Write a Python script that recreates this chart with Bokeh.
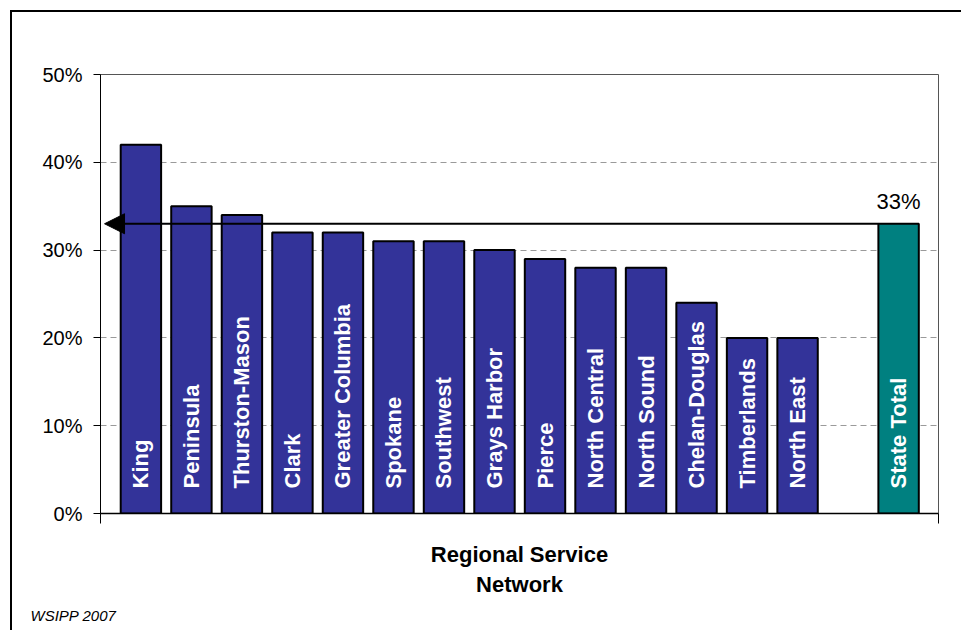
import math
from bokeh.plotting import figure
from bokeh.models import (Range1d, FixedTicker, ColumnDataSource, Arrow, NormalHead,
                          Title, CustomJSTickFormatter)
from bokeh.core.properties import value
from bokeh.embed import file_html
from bokeh.resources import INLINE

# ---- data ----
regions = ["King", "Peninsula", "Thurston-Mason", "Clark", "Greater Columbia", "Spokane",
           "Southwest", "Grays Harbor", "Pierce", "North Central", "North Sound",
           "Chelan-Douglas", "Timberlands", "North East"]
region_values = [42, 35, 34, 32, 32, 31, 31, 30, 29, 28, 28, 24, 20, 20]
total_label = "State Total"
total_value = 33
y_ticks = [0, 10, 20, 30, 40, 50]
y_tick_labels = ["0%", "10%", "20%", "30%", "40%", "50%"]

FONT = "Liberation Sans"
BLUE = "#333399"
TEAL = "#008080"

region_x = list(range(len(regions)))
total_x = len(regions) + 1
x_lo, x_hi = -0.8, total_x + 0.79

p = figure(width=961, height=630, output_backend="svg", toolbar_location=None,
           x_range=Range1d(x_lo, x_hi), y_range=Range1d(0, 50),
           min_border_left=100, min_border_right=23, min_border_top=74,
           min_border_bottom=117)
p.background_fill_color = "white"
p.border_fill_color = None
p.outline_line_color = "#555555"
p.outline_line_width = 1
# outer chart-area border (left and top edges visible in the window)
p.styles = {
    "background": ("linear-gradient(#000, #000) 10px 10px / 2px 100% no-repeat, "
                   "linear-gradient(#000, #000) 10px 10px / 100% 2px no-repeat, #fff"),
}

# bars
src_r = ColumnDataSource(dict(x=region_x, top=region_values, name=regions))
src_t = ColumnDataSource(dict(x=[total_x], top=[total_value], name=[total_label],
                              lab=[f"{total_value}%"]))
p.vbar(x="x", top="top", bottom=0, width=0.8, source=src_r, fill_color=BLUE,
       line_color="black", line_width=2)
p.vbar(x="x", top="top", bottom=0, width=0.8, source=src_t, fill_color=TEAL,
       line_color="black", line_width=2)

# labels in bars
for s in (src_r, src_t):
    p.text(x="x", y=0, text="name", source=s, angle=math.pi / 2, y_offset=-25,
           text_align="left", text_baseline="middle", text_color="white",
           text_font=value(FONT), text_font_style="bold", text_font_size="22px")

p.text(x="x", y="top", text="lab", source=src_t, y_offset=-22, text_align="center",
       text_baseline="alphabetic", text_color="black", text_font=value(FONT),
       text_font_size="22px")

# arrow for state total reference
p.add_layout(Arrow(end=NormalHead(size=20, fill_color="black", line_color="black"),
                   x_start=total_x - 0.4, y_start=total_value,
                   x_end=x_lo + 0.08, y_end=total_value, line_width=2,
                   line_color="black"))

# axes
p.yaxis.ticker = FixedTicker(ticks=y_ticks)
p.yaxis.major_label_overrides = {t: l for t, l in zip(y_ticks, y_tick_labels)}
p.yaxis.major_label_text_font = FONT
p.yaxis.major_label_text_font_size = "20px"
p.yaxis.major_label_text_color = "black"
p.yaxis.major_tick_out = 7
p.yaxis.major_tick_in = 0
p.yaxis.minor_tick_line_color = None
p.yaxis.axis_line_color = "black"
p.yaxis.major_label_standoff = 11

p.xaxis.ticker = FixedTicker(ticks=[x_lo, x_hi])
p.xaxis.formatter = CustomJSTickFormatter(code="return ''")
p.xaxis.major_tick_out = 10
p.xaxis.major_tick_in = 0
p.xaxis.minor_tick_line_color = None
p.xaxis.axis_line_color = "black"
p.xaxis.axis_line_width = 1.5
p.xaxis.axis_label = "Regional Service\nNetwork"
p.xaxis.axis_label_text_font = FONT
p.xaxis.axis_label_text_font_size = "22px"
p.xaxis.axis_label_text_font_style = "bold"
p.xaxis.axis_label_text_color = "black"
p.xaxis.axis_label_standoff = 18

p.xgrid.grid_line_color = None
p.ygrid.ticker = FixedTicker(ticks=y_ticks)
p.ygrid.grid_line_color = "#9a9a9a"
p.ygrid.grid_line_dash = "6 4"

# source note
p.add_layout(Title(text="WSIPP 2007", align="left", offset=-70, standoff=10,
                   text_font=FONT, text_font_style="italic", text_font_size="15px",
                   text_color="black"), "below")

open("out.html", "w").write(file_html(p, INLINE))
